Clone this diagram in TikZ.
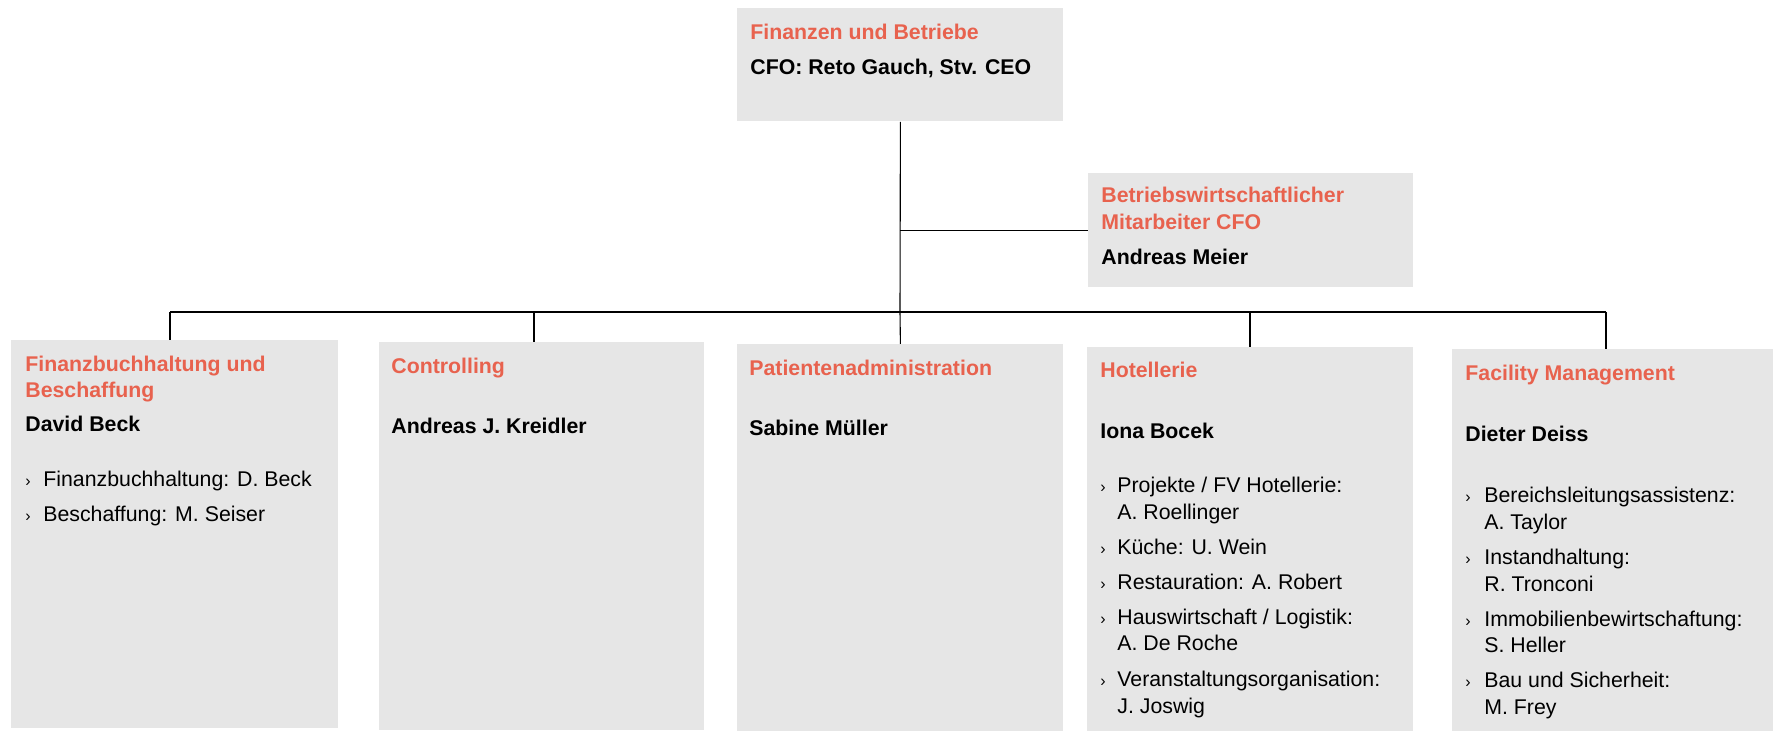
\documentclass[tikz,border=0pt]{standalone}
\usepackage{fontspec}
\setmainfont{Liberation Sans}
\definecolor{boxgray}{HTML}{E6E6E6}
\definecolor{headred}{HTML}{E8624E}
\begin{document}
\begin{tikzpicture}[x=0.5pt,y=-0.5pt,
  every node/.style={font=\fontsize{10.65pt}{13.5pt}\selectfont},
  box/.style={fill=boxgray, draw=none, inner sep=0pt, anchor=north west},
  head/.style={anchor=base west, inner sep=0pt, text=headred, font=\fontsize{10.65pt}{13.5pt}\selectfont\bfseries},
  person/.style={anchor=base west, inner sep=0pt, font=\fontsize{10.65pt}{13.5pt}\selectfont\bfseries},
  item/.style={anchor=base west, inner sep=0pt},
  bul/.style={anchor=base west, inner sep=0pt, font=\fontsize{8pt}{9pt}\selectfont},
  conn/.style={draw=black, line width=0.55pt}]
\useasboundingbox (0,0) rectangle (1773,731);
% boxes
\node[box, minimum width=163pt, minimum height=56.5pt] (top) at (737,8) {};
\node[box, minimum width=162.5pt, minimum height=57pt] (asst) at (1088,173) {};
\node[box, minimum width=163.5pt, minimum height=194pt] (b1) at (11,340) {};
\node[box, minimum width=162.5pt, minimum height=194pt] (b2) at (379,342) {};
\node[box, minimum width=163pt, minimum height=193.5pt] (b3) at (737,344) {};
\node[box, minimum width=163pt, minimum height=192pt] (b4) at (1087,347) {};
\node[box, minimum width=160.5pt, minimum height=191pt] (b5) at (1452,349) {};
% connectors
\coordinate (busL) at (170,312);
\coordinate (busR) at (1606,312);
\coordinate (j) at (900,312);
\coordinate (d2) at (534,312);
\coordinate (d4) at (1250,312);
\draw[conn] (top.south) -- (j);
\draw[conn] (top.south |- asst.west) -- (asst.west);
\draw[conn] (busL) -- (busR);
\draw[conn] (busL) -- (busL |- b1.north);
\draw[conn] (d2) -- (d2 |- b2.north);
\draw[conn] (j) -- (b3.north);
\draw[conn] (d4) -- (d4 |- b4.north);
\draw[conn] (busR) -- (busR |- b5.north);
% top
\node[head] (t1) at (750,40) {Finanzen und Betriebe};
\node[person] (t2) at (750,75) {CFO: Reto Gauch, Stv. CEO};
% assistant
\node[head] (a1) at (1101,203) {Betriebswirtschaftlicher};
\node[head] (a2) at (1101,230) {Mitarbeiter CFO};
\node[person] (a3) at (1101,265) {Andreas Meier};
% b1
\node[head] (h1a) at (25,372) {Finanzbuchhaltung und};
\node[head] (h1b) at (25,398) {Beschaffung};
\node[person] (p1) at (25,432) {David Beck};
\node[bul] (s11) at (25,487) {›};
\node[item] (i11) at (43,487) {Finanzbuchhaltung: D. Beck};
\node[bul] (s12) at (25,522) {›};
\node[item] (i12) at (43,522) {Beschaffung: M. Seiser};
% b2
\node[head] (h2) at (391,374) {Controlling};
\node[person] (p2) at (391,434) {Andreas J. Kreidler};
% b3
\node[head] (h3) at (749,376) {Patientenadministration};
\node[person] (p3) at (749,436) {Sabine Müller};
% b4
\node[head] (h4) at (1100,378) {Hotellerie};
\node[person] (p4) at (1100,439) {Iona Bocek};
\node[bul] (s41) at (1100,493) {›};
\node[item] (i41) at (1117,493) {Projekte / FV Hotellerie:};
\node[item] (i41b) at (1117,520) {A. Roellinger};
\node[bul] (s42) at (1100,555) {›};
\node[item] (i42) at (1117,555) {Küche: U. Wein};
\node[bul] (s43) at (1100,590) {›};
\node[item] (i43) at (1117,590) {Restauration: A. Robert};
\node[bul] (s44) at (1100,625) {›};
\node[item] (i44) at (1117,625) {Hauswirtschaft / Logistik:};
\node[item] (i44b) at (1117,651) {A. De Roche};
\node[bul] (s45) at (1100,687) {›};
\node[item] (i45) at (1117,687) {Veranstaltungsorganisation:};
\node[item] (i45b) at (1117,713) {J. Joswig};
% b5
\node[head] (h5) at (1465,381) {Facility Management};
\node[person] (p5) at (1465,442) {Dieter Deiss};
\node[bul] (s51) at (1465,503) {›};
\node[item] (i51) at (1484,503) {Bereichsleitungsassistenz:};
\node[item] (i51b) at (1484,530) {A. Taylor};
\node[bul] (s52) at (1465,565) {›};
\node[item] (i52) at (1484,565) {Instandhaltung:};
\node[item] (i52b) at (1484,592) {R. Tronconi};
\node[bul] (s53) at (1465,627) {›};
\node[item] (i53) at (1484,627) {Immobilienbewirtschaftung:};
\node[item] (i53b) at (1484,653) {S. Heller};
\node[bul] (s54) at (1465,688) {›};
\node[item] (i54) at (1484,688) {Bau und Sicherheit:};
\node[item] (i54b) at (1484,715) {M. Frey};
\end{tikzpicture}
\end{document}
